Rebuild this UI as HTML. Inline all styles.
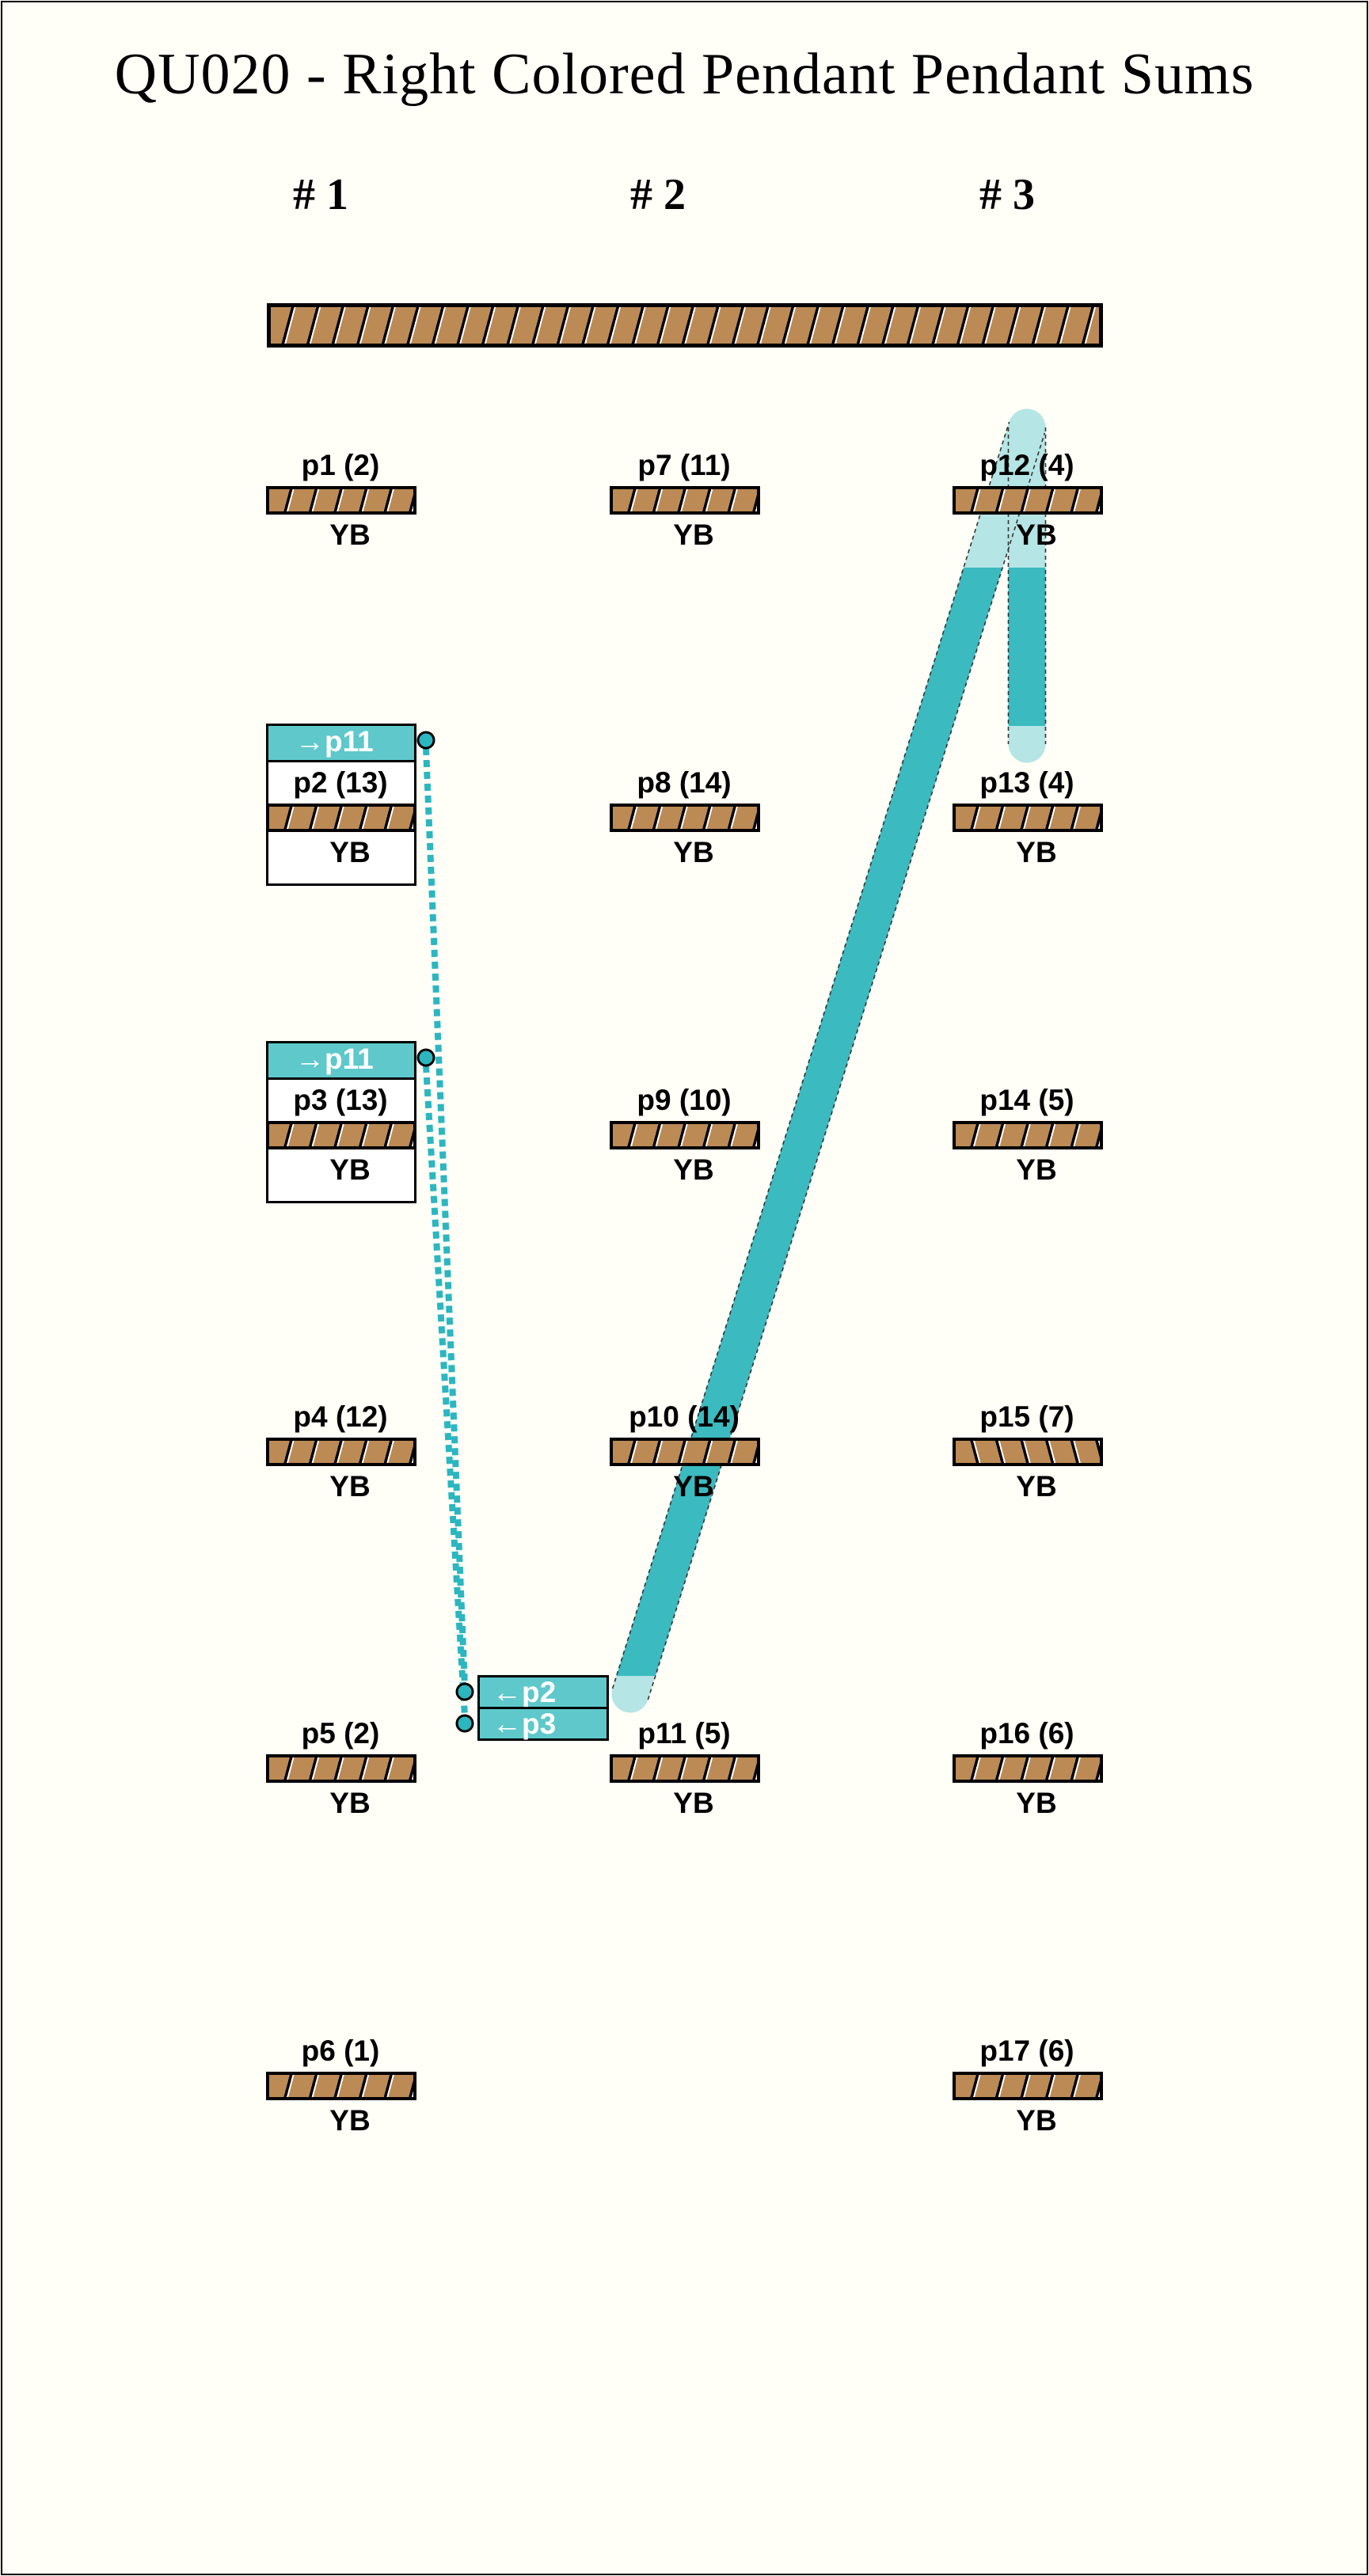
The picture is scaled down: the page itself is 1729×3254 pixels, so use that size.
<!DOCTYPE html>
<html><head><meta charset="utf-8"><style>
html,body{margin:0;padding:0;background:#fffef7;}
#wrap{position:relative;width:1729px;height:3254px;overflow:hidden;background:#fffef7;}
.frame{position:absolute;left:1px;top:1px;width:1723px;height:3248px;border:2px solid #000;}
.title{position:absolute;left:0;width:1729px;top:52px;text-align:center;font-family:"Liberation Serif",serif;font-size:74px;letter-spacing:1px;color:#000;}
.hdr{position:absolute;top:214px;width:200px;margin-left:-100px;text-align:center;font-family:"Liberation Serif",serif;font-size:56px;font-weight:bold;}
.bar{position:absolute;box-sizing:border-box;border:4px solid #000;height:36px;width:190px;
background:repeating-linear-gradient(105deg,#bc8a55 0 25px,#000 25px 28.5px,#fff 28.5px 30.5px);}
.bar.r{background:repeating-linear-gradient(75deg,#bc8a55 0 25px,#000 25px 28.5px,#fff 28.5px 30.5px);}
.lab{position:absolute;width:260px;margin-left:-130px;text-align:center;font-family:"Liberation Sans",sans-serif;font-weight:bold;font-size:37px;line-height:36px;color:#000;}
.box{position:absolute;box-sizing:border-box;border:3px solid #000;background:#fff;width:190px;}
.teal{position:absolute;background:#5ec8cb;color:#fff;font-family:"Liberation Sans",sans-serif;font-weight:bold;font-size:37px;line-height:40px;box-sizing:border-box;}
svg{position:absolute;left:0;top:0;}
</style></head><body><div id="wrap">
<svg width="1729" height="3254">
<defs><clipPath id="cd"><rect x="0" y="717" width="1729" height="1400"/></clipPath>
<clipPath id="cv"><rect x="0" y="717" width="1729" height="200"/></clipPath></defs>
<g opacity="0.9">
<line x1="796" y1="2140" x2="1297" y2="540" stroke="#aee3e2" stroke-width="47" stroke-linecap="round"/>
<line x1="1297" y1="540" x2="1297" y2="940" stroke="#aee3e2" stroke-width="47" stroke-linecap="round"/>
</g>
<line x1="796" y1="2140" x2="1297" y2="540" stroke="#3bbac0" stroke-width="47" clip-path="url(#cd)"/>
<line x1="1297" y1="540" x2="1297" y2="940" stroke="#3bbac0" stroke-width="47" clip-path="url(#cv)"/>
<g stroke="#333" stroke-width="1.6" stroke-dasharray="5,4" fill="none">
<line x1="818.4" y1="2147" x2="1319.4" y2="547"/>
<line x1="773.6" y1="2133" x2="1274.6" y2="533"/>
<line x1="1273.5" y1="540" x2="1273.5" y2="940"/>
<line x1="1320.5" y1="540" x2="1320.5" y2="940"/>
</g>
<line x1="538" y1="945" x2="587" y2="2130" stroke="#2bb6c0" stroke-width="8" stroke-dasharray="9,6"/>
<line x1="538" y1="1346" x2="587" y2="2168" stroke="#2bb6c0" stroke-width="8" stroke-dasharray="9,6"/>
</svg>
<div class="frame"></div>
<div class="title">QU020 - Right Colored Pendant Pendant Sums</div>
<div class="hdr" style="left:405px">#&nbsp;1</div>
<div class="hdr" style="left:831px">#&nbsp;2</div>
<div class="hdr" style="left:1272px">#&nbsp;3</div>
<div class="bar" style="left:337px;top:383px;width:1056px;height:56px;border-width:5px"></div>

<div class="box" style="left:336px;top:914px;height:205px"></div>
<div class="teal" style="left:336px;top:914px;width:190px;height:49px;border:3px solid #000;padding-left:34px">→p11</div>
<div class="box" style="left:336px;top:1315px;height:205px"></div>
<div class="teal" style="left:336px;top:1315px;width:190px;height:49px;border:3px solid #000;padding-left:34px">→p11</div>

<svg width="1729" height="3254">
<circle cx="538" cy="935" r="10" fill="#2bb6c0" stroke="#000" stroke-width="3"/>
<circle cx="538" cy="1336" r="10" fill="#2bb6c0" stroke="#000" stroke-width="3"/>
<circle cx="587" cy="2137" r="10" fill="#2bb6c0" stroke="#000" stroke-width="3"/>
<circle cx="587" cy="2177" r="10" fill="#2bb6c0" stroke="#000" stroke-width="3"/>
</svg>
<div class="teal" style="left:603px;top:2116px;width:166px;height:43px;border:3px solid #000;padding-left:16px;line-height:38px">←p2</div>
<div class="teal" style="left:603px;top:2156px;width:166px;height:43px;border:3px solid #000;padding-left:16px;line-height:38px">←p3</div>

<div class="lab" style="left:430px;top:570px">p1 (2)</div><div class="bar" style="left:336px;top:614px"></div><div class="lab" style="left:442px;top:658px">YB</div>
<div class="lab" style="left:430px;top:971px">p2 (13)</div><div class="bar" style="left:336px;top:1015px"></div><div class="lab" style="left:442px;top:1059px">YB</div>
<div class="lab" style="left:430px;top:1372px">p3 (13)</div><div class="bar" style="left:336px;top:1416px"></div><div class="lab" style="left:442px;top:1460px">YB</div>
<div class="lab" style="left:430px;top:1772px">p4 (12)</div><div class="bar" style="left:336px;top:1816px"></div><div class="lab" style="left:442px;top:1860px">YB</div>
<div class="lab" style="left:430px;top:2172px">p5 (2)</div><div class="bar" style="left:336px;top:2216px"></div><div class="lab" style="left:442px;top:2260px">YB</div>
<div class="lab" style="left:430px;top:2573px">p6 (1)</div><div class="bar" style="left:336px;top:2617px"></div><div class="lab" style="left:442px;top:2661px">YB</div>
<div class="lab" style="left:864px;top:570px">p7 (11)</div><div class="bar" style="left:770px;top:614px"></div><div class="lab" style="left:876px;top:658px">YB</div>
<div class="lab" style="left:864px;top:971px">p8 (14)</div><div class="bar" style="left:770px;top:1015px"></div><div class="lab" style="left:876px;top:1059px">YB</div>
<div class="lab" style="left:864px;top:1372px">p9 (10)</div><div class="bar" style="left:770px;top:1416px"></div><div class="lab" style="left:876px;top:1460px">YB</div>
<div class="lab" style="left:864px;top:1772px">p10 (14)</div><div class="bar" style="left:770px;top:1816px"></div><div class="lab" style="left:876px;top:1860px">YB</div>
<div class="lab" style="left:864px;top:2172px">p11 (5)</div><div class="bar" style="left:770px;top:2216px"></div><div class="lab" style="left:876px;top:2260px">YB</div>
<div class="lab" style="left:1297px;top:570px">p12 (4)</div><div class="bar" style="left:1203px;top:614px"></div><div class="lab" style="left:1309px;top:658px">YB</div>
<div class="lab" style="left:1297px;top:971px">p13 (4)</div><div class="bar" style="left:1203px;top:1015px"></div><div class="lab" style="left:1309px;top:1059px">YB</div>
<div class="lab" style="left:1297px;top:1372px">p14 (5)</div><div class="bar" style="left:1203px;top:1416px"></div><div class="lab" style="left:1309px;top:1460px">YB</div>
<div class="lab" style="left:1297px;top:1772px">p15 (7)</div><div class="bar r" style="left:1203px;top:1816px"></div><div class="lab" style="left:1309px;top:1860px">YB</div>
<div class="lab" style="left:1297px;top:2172px">p16 (6)</div><div class="bar" style="left:1203px;top:2216px"></div><div class="lab" style="left:1309px;top:2260px">YB</div>
<div class="lab" style="left:1297px;top:2573px">p17 (6)</div><div class="bar" style="left:1203px;top:2617px"></div><div class="lab" style="left:1309px;top:2661px">YB</div>
</div></body></html>
